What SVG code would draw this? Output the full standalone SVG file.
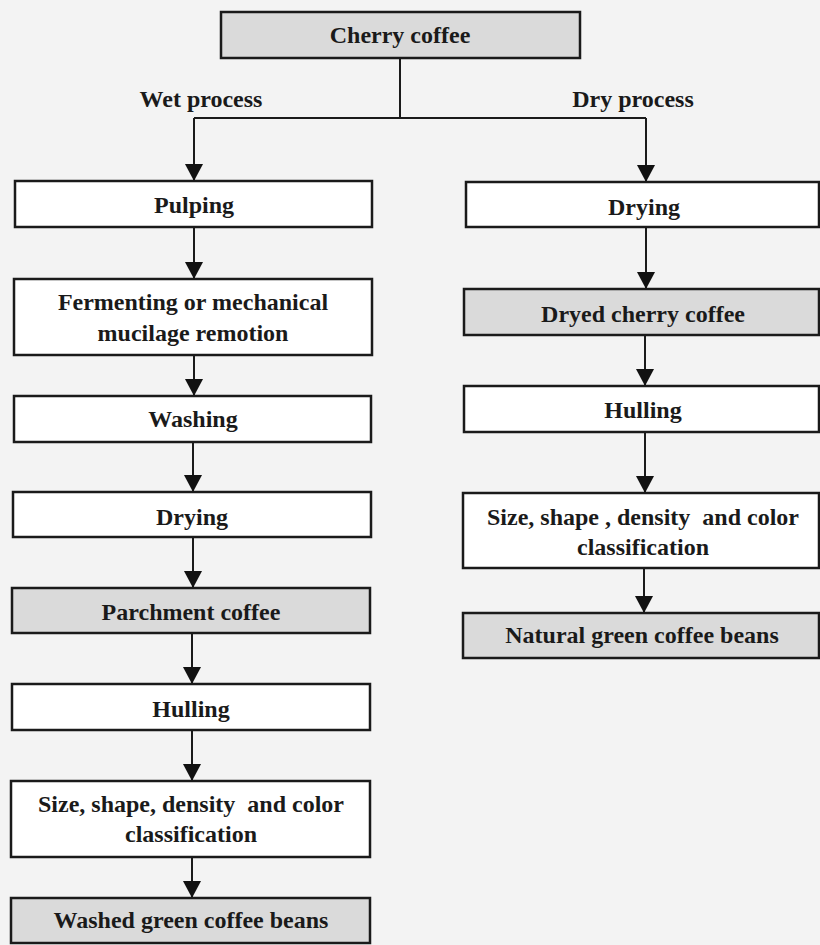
<svg xmlns="http://www.w3.org/2000/svg" width="820" height="945" viewBox="0 0 820 945">
<style>
.box{fill:#ffffff;stroke:#1a1a1a;stroke-width:2.5}
.grey{fill:#dadada;stroke:#1a1a1a;stroke-width:2.5}
.t{font-family:"Liberation Serif","Times New Roman",serif;font-weight:bold;font-size:24px;fill:#1a1a1a;text-anchor:middle;white-space:pre}
.c{fill:none;stroke:#1a1a1a;stroke-width:2}
</style>
<defs>
<marker id="arr" viewBox="0 -9 17 18" refX="17" refY="0" markerWidth="17" markerHeight="18" markerUnits="userSpaceOnUse" orient="auto">
<path d="M0,-9 L17,0 L0,9 z" fill="#111"/>
</marker>
</defs>
<rect width="820" height="945" fill="#f3f3f3"/>
<g id="connectors">
<path class="c" d="M400,58 V118"/>
<path class="c" d="M194,118 H646"/>
<path class="c" d="M194,118 V181" marker-end="url(#arr)"/>
<path class="c" d="M646,118 V182" marker-end="url(#arr)"/>
<path class="c" d="M194,227 V279" marker-end="url(#arr)"/>
<path class="c" d="M194,355 V396" marker-end="url(#arr)"/>
<path class="c" d="M193,442 V492" marker-end="url(#arr)"/>
<path class="c" d="M193,537 V588" marker-end="url(#arr)"/>
<path class="c" d="M192,633 V684" marker-end="url(#arr)"/>
<path class="c" d="M192,730 V781" marker-end="url(#arr)"/>
<path class="c" d="M192,857 V898" marker-end="url(#arr)"/>
<path class="c" d="M646,227 V289" marker-end="url(#arr)"/>
<path class="c" d="M645,335 V386" marker-end="url(#arr)"/>
<path class="c" d="M645,432 V493" marker-end="url(#arr)"/>
<path class="c" d="M644,568 V613" marker-end="url(#arr)"/>
</g>
<g id="labels">
<text class="t" x="201" y="107">Wet process</text>
<text class="t" x="633" y="107">Dry process</text>
</g>
<g id="cherry">
<rect class="grey" x="221" y="12" width="359" height="46"/>
<text class="t" x="400" y="43">Cherry coffee</text>
</g>
<g id="pulping">
<rect class="box" x="15" y="181" width="357" height="46"/>
<text class="t" x="194" y="213">Pulping</text>
</g>
<g id="fermenting">
<rect class="box" x="14" y="279" width="358" height="76"/>
<text class="t" x="193" y="310">Fermenting or mechanical</text>
<text class="t" x="193" y="341">mucilage remotion</text>
</g>
<g id="washing">
<rect class="box" x="14" y="396" width="357" height="46"/>
<text class="t" x="193" y="427">Washing</text>
</g>
<g id="drying-wet">
<rect class="box" x="13" y="492" width="358" height="45"/>
<text class="t" x="192" y="525">Drying</text>
</g>
<g id="parchment">
<rect class="grey" x="12" y="588" width="358" height="45"/>
<text class="t" x="191" y="620">Parchment coffee</text>
</g>
<g id="hulling-wet">
<rect class="box" x="12" y="684" width="358" height="46"/>
<text class="t" x="191" y="717">Hulling</text>
</g>
<g id="classification-wet">
<rect class="box" x="11" y="781" width="359" height="76"/>
<text class="t" x="191" y="812">Size, shape, density  and color</text>
<text class="t" x="191" y="842">classification</text>
</g>
<g id="washed-beans">
<rect class="grey" x="11" y="898" width="359" height="45"/>
<text class="t" x="191" y="928">Washed green coffee beans</text>
</g>
<g id="drying-dry">
<rect class="box" x="466" y="182" width="353" height="45"/>
<text class="t" x="644" y="215">Drying</text>
</g>
<g id="dryed-cherry">
<rect class="grey" x="464" y="289" width="355" height="46"/>
<text class="t" x="643" y="322">Dryed cherry coffee</text>
</g>
<g id="hulling-dry">
<rect class="box" x="464" y="386" width="355" height="46"/>
<text class="t" x="643" y="418">Hulling</text>
</g>
<g id="classification-dry">
<rect class="box" x="463" y="493" width="356" height="75"/>
<text class="t" x="643" y="525">Size, shape , density  and color</text>
<text class="t" x="643" y="555">classification</text>
</g>
<g id="natural-beans">
<rect class="grey" x="463" y="613" width="356" height="45"/>
<text class="t" x="642" y="643">Natural green coffee beans</text>
</g>
</svg>
